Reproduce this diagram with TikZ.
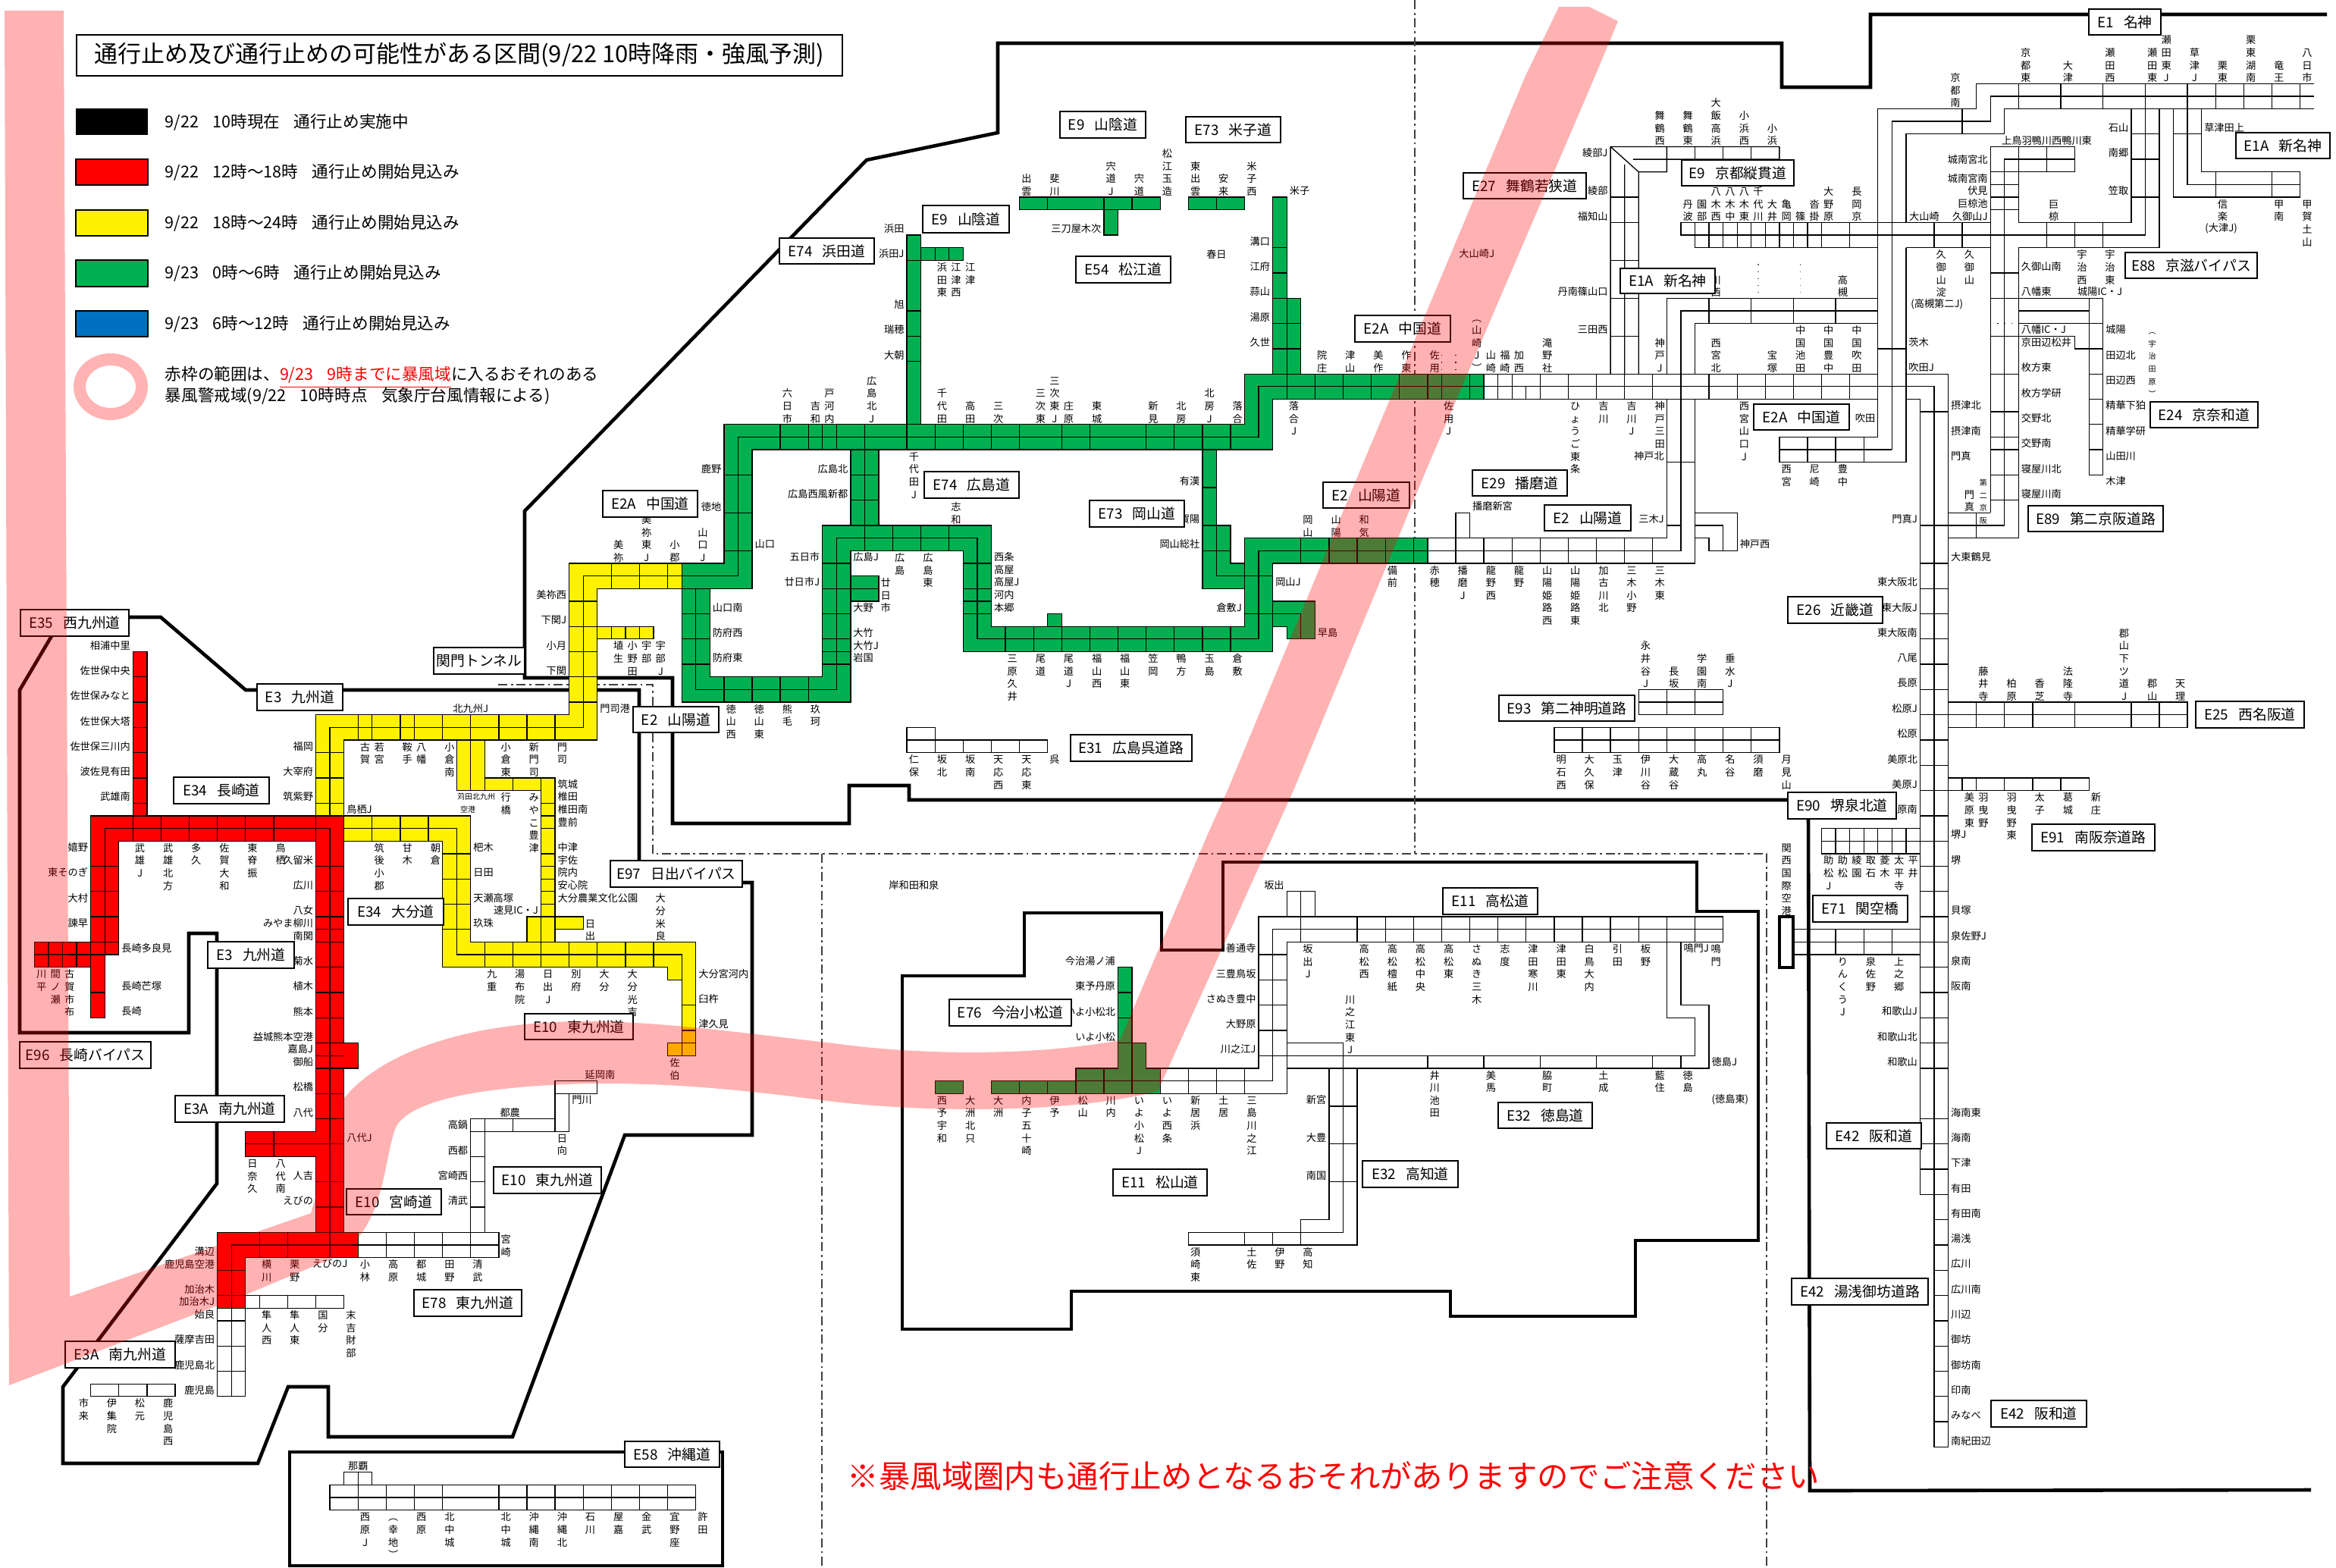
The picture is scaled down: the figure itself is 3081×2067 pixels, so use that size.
\documentclass[tikz,border=0pt]{standalone}
\usepackage{fontspec}
\setmainfont{Noto Sans CJK JP}
\definecolor{rdgreen}{HTML}{00B050}
\definecolor{rdblue}{HTML}{0070C0}
\definecolor{ringpink}{HTML}{FFB3B3}
\newcount\nc
\newcommand\fsmall{\fontsize{3.3}{4.1625}\selectfont}
\newcommand\ftiny{\fontsize{2.5}{4.1625}\selectfont}
\tikzset{
 ln/.style={draw=black,line width=0.33pt},
 heavy/.style={draw=black,line width=1.15pt,line join=miter},
 ddash/.style={draw=black!75,line width=0.35pt,dash pattern=on 3pt off 1.2pt on 0.7pt off 1.2pt},
 roadfill/.style={draw=black,line width=0.33pt,line join=miter},
 vtext/.style={anchor=north,align=center,inner sep=0pt,font=\fsmall},
 htext/.style={inner sep=0pt,font=\fsmall},
 labbox/.style={draw=black,fill=white,line width=0.35pt,inner sep=0pt,font=\fontsize{4.7}{5}\selectfont},
 legtext/.style={anchor=west,inner sep=0pt,font=\fontsize{5.4}{6}\selectfont},
 swatch/.style={draw=black,line width=0.3pt}
}
\newcommand\tV[3]{\global\advance\nc by 1 \node[vtext] (n\the\nc) at (#1+.5,#2) {\rule{0pt}{3.33pt}#3};}
\newcommand\tR[3]{\global\advance\nc by 1 \node[htext,anchor=east] (n\the\nc) at (#1-.15,#2+.5) {#3};}
\newcommand\tL[3]{\global\advance\nc by 1 \node[htext,anchor=west] (n\the\nc) at (#1+.15,#2+.5) {#3};}
\newcommand\tC[3]{\global\advance\nc by 1 \node[htext] (n\the\nc) at (#1,#2+.5) {#3};}
\newcommand\lab[5]{\global\advance\nc by 1 \node[labbox,minimum width={(#3-#1)*0.25pt},minimum height={(#4-#2)*0.25pt}] (n\the\nc) at ({(#1+#3)/2},{(#2+#4)/2}) {#5};}
\newcommand\tkV[3]{\foreach \q in {#3} \draw[ln] (\q,#1)--(\q,#2);}
\newcommand\tkH[3]{\foreach \q in {#3} \draw[ln] (#1,\q)--(#2,\q);}
\newcommand\gp{\hspace{0.7em}}
\newcommand\leggap{\hspace{4.6pt}}
\begin{document}
\begin{tikzpicture}[x=0.25pt,y=-0.25pt]
\useasboundingbox (0,0) rectangle (3081,2067);
\fill[white] (0,0) rectangle (3081,2067);
% heavy boundaries
\draw[heavy] (3069,19)--(2467,19)--(2467,115)--(2350,115)--(2350,57)--(1316,57)--(1316,175)--(1143,211)--(692,674)--(692,894)--(887,894)--(887,1086)--(1120,1086)--(1120,1036)--(1199,1036)--(1199,1055)--(2360,1055);
\draw[heavy] (170,814)--(212,814)--(324,910)--(843,910)--(843,1135);
\draw[heavy] (978,1164)--(992,1164)--(992,1497)--(824,1497)--(676,1895)--(433,1895)--(433,1829)--(380,1829)--(340,1930)--(83,1930)--(83,1829)--(286,1561)--(286,1231)--(249,1231)--(249,1362)--(26,1362)--(26,910)--(68,839);
\draw[heavy] (382,1915)--(953,1915)--(953,2065)--(382,2065)--cycle;
\draw[heavy] (1190,1287)--(1351,1287)--(1351,1204)--(1532,1204)--(1532,1253)--(1613,1253)--(1613,1137)--(2238,1137)--(2238,1202)--(2319,1202)--(2319,1636)--(2157,1636)--(2157,1736)--(1913,1736)--(1913,1703)--(1413,1703)--(1413,1753)--(1190,1753)--cycle;
\draw[heavy] (2385,1080)--(2387,1966)--(3048,1965);
% dash-dot boundaries
\draw[ddash] (1866,0)--(1866,1126);
\draw[ddash] (657,903)--(861,903)--(861,1126)--(2330,1126);
\draw[ddash] (1084,1126)--(1084,2067);
\draw[ddash] (2330,1126)--(2330,2067);

\begin{scope}[shift={(8.27,10.3)},x=4.64pt,y=-4.1625pt]
%%%%%% Kyushu red
\fill[red] (9,51) rectangle (10,64);
\draw[ln] (9,51) rectangle (10,64); \tkH{9}{10}{53,55,57,59,61,63}
\filldraw[roadfill,fill=red] (2,74)--(6,74)--(6,64)--(24,64)--(24,82)--(25,82)--(25,84)--(24,84)--(24,97)--(25,97)--(25,99)--(17,99)--(17,103)--(15,103)--(15,97)--(22,97)--(22,91)--(17,91)--(17,89)--(22,89)--(22,66)--(8,66)--(8,75)--(7,75)--(7,80)--(6,80)--(6,76)--(2,76)--cycle;
\draw[ln] (2,75)--(7,75)--(7,65)--(23,65)--(23,98)--(16,98)--(16,103) (23,98)--(25,98) (17,90)--(22,90);
\tkV{64}{66}{9,11,13,15,17,19,22}
\tkH{6}{8}{68,70,72,74}
\tkV{74}{76}{3,4,5,6}
\tkH{6}{7}{78}
\tkH{22}{24}{68,70,72,73,74,76,78,80,82,83,84,86,88,90,93,95,97}
\tkV{89}{91}{19}
\tkV{97}{99}{18,20,23}
\tkH{15}{17}{100,102}
%%%%%% Kyushu white
\draw[ln] (15,103) rectangle (17,110) (16,103)--(16,110); \tkH{15}{17}{104,106,108}
\draw[ln] (17,102) rectangle (24,103); \tkV{102}{103}{18,20,22}
\draw[ln] (25,97) rectangle (35,99) (25,98)--(35,98); \tkV{97}{99}{27,29,31,33}
\draw[ln] (33,88) rectangle (34,97); \tkH{33}{34}{89,91,93,95}
\draw[ln] (33,88) rectangle (39,89) (36,88)--(36,89);
\draw[ln] (39,86) rectangle (40,89) (39,85) rectangle (42,86);
\draw[ln] (6,109) rectangle (12,110); \tkV{109}{110}{8,10}
\draw[ln] (23,117) rectangle (49,119) (23,118)--(49,118); \tkV{117}{119}{25,27,29,31,35,37,39,41,43,45,47}
\draw[ln] (24,116) rectangle (26,117) (25,116)--(25,117);
%%%%%% Yellow
\filldraw[roadfill,fill=yellow] (22,64)--(22,56)--(40,56)--(40,44)--(48,44)--(48,46)--(42,46)--(42,58)--(24,58)--(24,64)--cycle;
\draw[ln] (23,64)--(23,57)--(41,57)--(41,45)--(48,45);
\tkV{56}{58}{25,26,28,29,31,33,35,37,39}
\tkH{22}{24}{59,61,63}
\tkH{40}{42}{47,49,51,53,55}
\tkV{44}{46}{43,45,47}
\filldraw[roadfill,fill=yellow] (42,49) rectangle (46,50); \tkV{49}{50}{43,44,45}
\filldraw[roadfill,fill=yellow] (32,58)--(34,58)--(34,61)--(39,61)--(39,72)--(41,72)--(41,73)--(39,73)--(39,74)--(37,74)--(37,72)--(38,72)--(38,62)--(32,62)--cycle;
\draw[ln] (33,58)--(33,62) (34,61)--(34,62) (36,61)--(36,62) (38,61)--(38,62) (38,72)--(38,74) (39,72)--(39,73);
\tkH{38}{39}{63,64,65,67,68,69,70,71}
\draw[ln] (37,72)--(39,72);
\filldraw[roadfill,fill=yellow] (24,64)--(33,64)--(33,74)--(49,74)--(49,83)--(47,83)--(47,82)--(48,82)--(48,77)--(47,77)--(47,76)--(31,76)--(31,66)--(24,66)--cycle;
\draw[ln] (24,65)--(32,65)--(32,75)--(48,75)--(48,83) (47,82)--(49,82);
\tkV{64}{66}{26,28,30}
\tkH{31}{33}{67,69,71,73}
\tkV{74}{76}{34,36,38,40,42,44,46}
\tkH{48}{49}{79,81}
%%%%%% Green
\filldraw[roadfill,fill=rdgreen] (48,44)--(51,44)--(51,33)--(88,33)--(88,29)--(105,29)--(105,31)--(90,31)--(90,35)--(53,35)--(53,46)--(48,46)--cycle;
\draw[ln] (48,45)--(52,45)--(52,34)--(89,34)--(89,30)--(105,30);
\tkH{51}{53}{37,40,43}
\tkV{33}{35}{55,57,58,59,61,64,66,68,70,72,75,77,81,83,85,87}
\tkV{29}{31}{91,93,95,97,99,101,102,104}
\filldraw[roadfill,fill=rdgreen] (48,46)--(48,55)--(60,55)--(60,43)--(68,43)--(68,51)--(90,51)--(90,44)--(101,44)--(101,42)--(88,42)--(88,49)--(70,49)--(70,41)--(58,41)--(58,53)--(50,53)--(50,46)--cycle;
\draw[ln] (49,46)--(49,54)--(59,54)--(59,42)--(69,42)--(69,50)--(89,50)--(89,43)--(101,43);
\tkH{48}{50}{48,50,52}
\tkV{53}{55}{51,53,55,57}
\tkH{58}{60}{44,46,48,50,51,52}
\tkV{41}{43}{61,63,65,67}
\tkH{68}{70}{44,46,47,48}
\tkV{49}{51}{71,73,75,77,79,81,83,85,87}
\tkH{88}{90}{45,48}
\tkV{42}{44}{92,94,96,98,100}
\filldraw[roadfill,fill=rdgreen] (60,35) rectangle (62,41); \draw[ln] (61,35)--(61,41); \tkH{60}{62}{37,39}
\filldraw[roadfill,fill=rdgreen] (60,45) rectangle (62,47); \draw[ln] (60,46)--(62,46);
\filldraw[roadfill,fill=rdgreen] (74,48) rectangle (75,49);
\filldraw[roadfill,fill=rdgreen] (85,35)--(86,35)--(86,41)--(87,41)--(87,44)--(88,44)--(88,46)--(85,46)--cycle;
\draw[ln] (86,41)--(86,45)--(88,45) (85,38)--(86,38) (85,41)--(86,41) (85,43)--(87,43);
\filldraw[roadfill,fill=rdgreen] (90,47)--(93,47)--(93,50)--(91,50)--(91,49)--(90,49)--cycle;
\draw[ln] (90,48)--(92,48)--(92,50);
\filldraw[roadfill,fill=rdgreen] (64,18) rectangle (65,33); \tkH{64}{65}{20,24,26,28}
\filldraw[roadfill,fill=rdgreen] (65,19) rectangle (68,20); \tkV{19}{20}{66,67}
\filldraw[roadfill,fill=rdgreen] (90,15)--(91,15)--(91,23)--(92,23)--(92,29)--(90,29)--cycle;
\draw[ln] (91,23)--(91,29); \tkH{90}{91}{19,21} \tkH{90}{92}{23,25,27}
\filldraw[roadfill,fill=rdgreen] (72,15) rectangle (82,16); \tkV{15}{16}{74,78,80}
\filldraw[roadfill,fill=rdgreen] (78,16) rectangle (79,18);
\filldraw[roadfill,fill=rdgreen] (84,15) rectangle (88,16); \tkV{15}{16}{86}
% Shikoku green
\filldraw[roadfill,fill=rdgreen] (79,76)--(80,76)--(80,82)--(81,82)--(81,84)--(82,84)--(82,86)--(70,86)--(70,85)--(76,85)--(76,84)--(79,84)--cycle;
\draw[ln] (80,82)--(80,86) (76,85)--(82,85) (79,82)--(81,82) (76,84)--(76,86) (78,84)--(78,86);
\tkH{79}{80}{78,80}
\tkV{85}{86}{72,74}
\filldraw[roadfill,fill=rdgreen] (66,85) rectangle (68,86);
%%%%%% E2A / E2 white
\draw[ln] (105,29)--(133,29) (105,30)--(134,30) (105,31)--(133,31);
\tkV{29}{31}{106,107,109,111,113,115,117,119,121,123,125,127,129,131}
\draw[ln] (108,30)--(108,31);
\draw[dotted,line width=0.3pt] (102,27.5)--(102,29) (103,27.5)--(103,29);
\draw[dotted,line width=0.3pt,black!60] (124.5,20.3)--(124.5,23) (127.5,20.3)--(127.5,23);
\draw[ln] (101,42)--(118,42)--(118,31) (101,43)--(119,43)--(119,31) (101,44)--(120,44)--(120,31);
\tkV{42}{44}{103,105,107,109,111,113,115,117}
\draw[ln] (118,36)--(120,36) (118,41)--(119,41);
\draw[ln] (103,42)--(103,40)--(104,40)--(104,42);
\draw[ln] (120,40)--(123,40)--(123,43)--(121,43)--(121,42)--(120,42) (120,41)--(122,41)--(122,43);
%%% E9 Kyoto
\draw[ln] (114,29)--(114,11)--(126,11)--(126,12)--(115.6,12) (115,29)--(115,12.4) (116,29)--(116,13)--(118,13)--(118,11) (114,11)--(116,13);
\tkH{114}{116}{15,17,20,23,26}
\tkV{11}{12}{120,122,124}
\draw[ln] (119,17) rectangle (133,18) (120,18)--(120,19)--(133,19);
\tkV{17}{19}{121,122,123,124,125,126,127,128,129,131}
\draw[ln] (120,17)--(120,19);
%%% E2A north
\draw[ln] (118,29)--(118,23)--(133,23) (119,29)--(119,24)--(133,24) (120,29)--(120,25)--(133,25);
\tkV{23}{25}{121,124,127,130}
\draw[ln] (126,34)--(133,34) (126,35)--(134,35) (126,36)--(135,36) (126,34)--(126,36);
\tkV{34}{36}{128,130,132}
%%% Meishin + vertical
\draw[ln] (164,6)--(140,6)--(140,8)--(133,8)--(133,34) (164,7)--(141,7)--(141,9)--(134,9)--(134,35) (164,8)--(142,8)--(142,10)--(135,10)--(135,17)--(141,17) (135,19)--(135,36);
\tkV{6}{8}{143,146,149,152,155,157,159,161,163}
\draw[ln] (139,8)--(139,10) (135,10)--(139,10);
\draw[ln] (133,18)--(152,18)--(152,8) (135,19)--(141,19) (133,17)--(135,17) (143,17)--(151,17)--(151,8) (143,19)--(153,19)--(153,8);
\tkV{17}{19}{137,139,145,147,149}
\tkH{151}{153}{10,12,15}
\draw[ln] (133,27)--(135,27);
\draw[ln] (154,8)--(154,15)--(163,15)--(163,13)--(156,13)--(156,8) (155,8)--(155,14)--(163,14) (154,10)--(156,10);
\tkV{13}{15}{157,161}
%%% E1A / E89 vertical
\draw[ln] (141,40)--(141,11)--(147,11)--(147,13)--(141,13) (142,41)--(142,12)--(147,12) (143,13)--(143,11) (145,11)--(145,13);
\draw[ln] (143,13)--(143,17) (143,19)--(143,42);
\tkH{141}{143}{14,15,16,21,23,26,29,32,34,35,37,39}
\draw[dotted,line width=0.3pt] (141,25)--(143,25);
\draw[ln] (143,23)--(149,23) (143,24)--(148,24) (143,25)--(149,25) (143,26)--(147,26)--(147,27)--(149,27);
\draw[ln] (148,23)--(148,37)--(149,37)--(149,23);
\tkH{148}{149}{27,29,31,33,35}
\draw[ln] (138,40)--(141,40) (138,41)--(142,41) (138,42)--(143,42) (140,40)--(140,42);
%%% E26 main
\draw[ln] (135,29)--(138,29)--(138,94) (134,30)--(137,30)--(137,114)--(138,114)--(138,94) (135,31)--(136,31)--(136,94)--(138,94);
\tkH{136}{138}{32,41,44,46,48,50,52,54,56,58,60,62,64,66,68,70,72,74,76,78,80,82,84,88,90,92}
\tkH{137}{138}{96,98,100,102,104,106,108,110,112}
%%% branches
\draw[ln] (138,55) rectangle (155,57) (138,56)--(155,56); \tkV{55}{57}{140,142,144,147,151,153}
\draw[ln] (138,61) rectangle (148,62); \tkV{61}{62}{139,140,142,144,146}
\draw[ln] (129,65) rectangle (136,67) (129,66)--(136,66); \tkV{65}{67}{130,131,132,133,134,135}
\draw[ln] (127,73)--(136,73) (127,74)--(136,74) (127,75)--(136,75); \tkV{73}{75}{130,132,134}
\draw[line width=1pt] (126,72) rectangle (127,76);
\draw[ln] (116,54) rectangle (122,56) (116,55)--(122,55); \tkV{54}{56}{118,120}
\draw[ln] (110,57) rectangle (126,59) (110,58)--(126,58); \tkV{57}{59}{112,114,116,118,120,122,124}
\draw[ln] (64,57) rectangle (66,59) (64,58)--(74,58) (66,58)--(74,58)--(74,59)--(66,59); \tkV{58}{59}{68,70,72}
%%%%%% Shikoku white
\draw[ln] (82,84)--(89,84)--(89,72)--(122,72)--(122,74)--(91,74)--(91,86)--(82,86) (82,85)--(90,85)--(90,73)--(122,73);
\tkV{84}{86}{84,86,88}
\tkH{89}{91}{75,77,79,81,83}
\tkV{72}{74}{92,96,98,100,102,104,106,108,110,112,114,116,118,120}
\draw[ln] (91,72)--(91,70)--(93,70)--(93,72) (92,70)--(92,74);
\draw[ln] (118,74)--(118,80)--(120,80)--(120,83)--(91,83) (119,74)--(119,79)--(121,79)--(121,84)--(91,84);
\tkV{83}{84}{101,105,109,113,117,119}
\draw[ln] (91,82)--(95,82)--(95,97)--(84,97)--(84,98)--(96,98)--(96,84) (94,84)--(94,96)--(92,96)--(92,98);
\tkH{94}{96}{87,90,93}
\tkV{97}{98}{88,90}

%%%%%% TEXT
% Kyushu
\tR{9}{50}{相浦中里}\tR{9}{52}{佐世保中央}\tR{9}{54}{佐世保みなと}\tR{9}{56}{佐世保大塔}\tR{9}{58}{佐世保三川内}\tR{9}{60}{波佐見有田}\tR{9}{62}{武雄南}
\tR{6}{66}{嬉野}\tR{6}{68}{東そのぎ}\tR{6}{70}{大村}\tR{6}{72}{諫早}
\tV{9}{66}{武\\雄\\J}\tV{11}{66}{武\\雄\\北\\方}\tV{13}{66}{多\\久}\tV{15}{66}{佐\\賀\\大\\和}\tV{17}{66}{東\\脊\\振}\tV{19}{66}{鳥\\栖}
\tR{22}{67}{久留米}\tR{22}{69}{広川}\tR{22}{71}{八女}\tR{22}{72}{みやま柳川}\tR{22}{73}{南関}\tR{22}{75}{菊水}\tR{22}{77}{植木}\tR{22}{79}{熊本}\tR{22}{81}{益城熊本空港}\tR{22}{82}{嘉島J}\tR{22}{83}{御船}\tR{22}{85}{松橋}\tR{22}{87}{八代}
\tL{24}{89}{八代J}\tR{22}{92}{人吉}\tR{22}{94}{えびの}
\tV{17}{91}{日\\奈\\久}\tV{19}{91}{八\\代\\南}
\tL{8}{74}{長崎多良見}\tL{8}{77}{長崎芒塚}\tL{8}{79}{長崎}
\tV{2}{76}{川\\平}\tV{3}{76}{間\\ノ\\瀬}\tV{4}{76}{古\\賀\\市\\布}
\tL{42}{55}{門司港}\tC{33}{55}{北九州J}
\tV{25}{58}{古\\賀}\tV{26}{58}{若\\宮}\tV{28}{58}{鞍\\手}\tV{29}{58}{八\\幡}\tV{31}{58}{小\\倉\\南}\tV{35}{58}{小\\倉\\東}\tV{37}{58}{新\\門\\司}\tV{39}{58}{門\\司}
\tR{22}{58}{福岡}\tR{22}{60}{大宰府}\tR{22}{62}{筑紫野}\tL{24}{63}{鳥栖J}
\tL{39}{61}{筑城}\tL{39}{62}{椎田}\tL{39}{63}{椎田南}\tL{39}{64}{豊前}\tL{39}{66}{中津}\tL{39}{67}{宇佐}\tL{39}{68}{院内}\tL{39}{69}{安心院}\tL{39}{70}{大分農業文化公園}
\node[htext,font=\ftiny] (kanda1) at (33.4,62.5) {苅田北九州};\node[htext,font=\ftiny] (kanda2) at (32.8,63.5) {空港};
\tV{35}{62}{行\\橋}\tV{37}{62}{み\\や\\こ\\豊\\津}
\tV{26}{66}{筑\\後\\小\\郡}\tV{28}{66}{甘\\木}\tV{30}{66}{朝\\倉}
\tL{33}{66}{杷木}\tL{33}{68}{日田}\tL{33}{70}{天瀬高塚}\tL{33}{72}{玖珠}\tR{38}{71}{速見IC・J}\tV{41}{72}{日\\出}
\tV{34}{76}{九\\重}\tV{36}{76}{湯\\布\\院}\tV{38}{76}{日\\出\\J}\tV{40}{76}{別\\府}\tV{42}{76}{大\\分}\tV{44}{76}{大\\分\\光\\吉}
\tV{46}{70}{大\\分\\米\\良}
\tL{49}{76}{大分宮河内}\tL{49}{78}{臼杵}\tL{49}{80}{津久見}\tV{47}{83}{佐\\伯}
\tV{43}{50}{埴\\生}\tV{44}{50}{小\\野\\田}\tV{45}{50}{宇\\部}\tV{46}{50}{宇\\部\\J}
\tR{40}{46}{美祢西}\tR{40}{48}{下関J}\tR{40}{50}{小月}\tR{40}{52}{下関}
\tV{43}{42}{美\\祢}\tV{45}{40}{美\\祢\\東\\J}\tV{47}{42}{小\\郡}\tV{49}{41}{山\\口\\J}
\tR{51}{36}{鹿野}\tR{51}{39}{徳地}\tL{53}{42}{山口}
% Chugoku
\tV{55}{30}{六\\日\\市}\tV{57}{31}{吉\\和}\tV{58}{30}{戸\\河\\内}\tV{61}{29}{広\\島\\北\\J}\tV{66}{30}{千\\代\\田}\tV{68}{31}{高\\田}\tV{70}{31}{三\\次}\tV{73}{30}{三\\次\\東}\tV{74}{29}{三\\次\\東\\J}\tV{75}{31}{庄\\原}\tV{77}{31}{東\\城}\tV{81}{31}{新\\見}\tV{83}{31}{北\\房}\tV{85}{30}{北\\房\\J}\tV{87}{31}{落\\合}
\tR{64}{17}{浜田}\tR{64}{19}{浜田J}\tR{64}{23}{旭}\tR{64}{25}{瑞穂}\tR{64}{27}{大朝}
\tV{66}{20}{浜\\田\\東}\tV{67}{20}{江\\津\\西}\tV{68}{20}{江\\津}
\tV{72}{13}{出\\雲}\tV{74}{13}{斐\\川}\tV{78}{12}{宍\\道\\J}\tV{80}{13}{宍\\道}\tV{82}{11}{松\\江\\玉\\造}\tV{84}{12}{東\\出\\雲}\tV{86}{13}{安\\来}\tV{88}{12}{米\\子\\西}
\tL{91}{14}{米子}\tR{78}{17}{三刀屋木次}\tC{86}{19}{春日}
\tR{90}{18}{溝口}\tR{90}{20}{江府}\tR{90}{22}{蒜山}\tR{90}{24}{湯原}\tR{90}{26}{久世}
\tV{93}{27}{院\\庄}\tV{95}{27}{津\\山}\tV{97}{27}{美\\作}\tV{99}{27}{作\\東}\tV{101}{27}{佐\\用}\tV{104}{24}{︵\\山\\崎\\J\\︶}\tV{105}{27}{山\\崎}\tV{106}{27}{福\\崎}\tV{107}{27}{加\\西}\tV{109}{26}{滝\\野\\社}
\tV{91}{31}{落\\合\\J}\tV{102}{31}{佐\\用\\J}\tV{111}{31}{ひ\\ょ\\う\\ご\\東\\条}\tV{113}{31}{吉\\川}\tV{115}{31}{吉\\川\\J}\tV{117}{31}{神\\戸\\三\\田}
\tR{118}{35}{神戸北}\tR{118}{40}{三木J}
\tR{85}{37}{有漢}\tR{85}{40}{賀陽}\tR{85}{42}{岡山総社}\tR{88}{47}{倉敷J}\tL{90}{45}{岡山J}\tL{93}{49}{早島}
\tV{92}{40}{岡\\山}\tV{94}{40}{山\\陽}\tV{96}{40}{和\\気}\tV{98}{44}{備\\前}\tV{101}{44}{赤\\穂}\tV{103}{44}{播\\磨\\J}\tV{105}{44}{龍\\野\\西}\tV{107}{44}{龍\\野}\tV{109}{44}{山\\陽\\姫\\路\\西}\tV{111}{44}{山\\陽\\姫\\路\\東}\tL{104}{39}{播磨新宮}
\tV{113}{44}{加\\古\\川\\北}\tV{115}{44}{三\\木\\小\\野}\tV{117}{44}{三\\木\\東}\tL{123}{42}{神戸西}
\tV{64}{35}{千\\代\\田\\J}\tR{60}{36}{広島北}\tR{60}{38}{広島西風新都}\tV{67}{39}{志\\和}
\tR{58}{43}{五日市}\tR{58}{45}{廿日市J}\tL{60}{43}{広島J}\tV{63}{43}{広\\島}\tV{65}{43}{広\\島\\東}\tV{62}{45}{廿\\日\\市}
\tL{60}{47}{大野}\tL{60}{49}{大竹}\tL{60}{50}{大竹J}\tL{60}{51}{岩国}
\tL{70}{43}{西条}\tL{70}{44}{高屋}\tL{70}{45}{高屋J}\tL{70}{46}{河内}\tL{70}{47}{本郷}
\tL{50}{47}{山口南}\tL{50}{49}{防府西}\tL{50}{51}{防府東}
\tV{51}{55}{徳\\山\\西}\tV{53}{55}{徳\\山\\東}\tV{55}{55}{熊\\毛}\tV{57}{55}{玖\\珂}
\tV{71}{51}{三\\原\\久\\井}\tV{73}{51}{尾\\道}\tV{75}{51}{尾\\道\\J}\tV{77}{51}{福\\山\\西}\tV{79}{51}{福\\山\\東}\tV{81}{51}{笠\\岡}\tV{83}{51}{鴨\\方}\tV{85}{51}{玉\\島}\tV{87}{51}{倉\\敷}
\tV{64}{59}{仁\\保}\tV{66}{59}{坂\\北}\tV{68}{59}{坂\\南}\tV{70}{59}{天\\応\\西}\tV{72}{59}{天\\応\\東}\tV{74}{59}{呉}
% Kansai
\tV{117}{8}{舞\\鶴\\西}\tV{119}{8}{舞\\鶴\\東}\tV{121}{7}{大\\飯\\高\\浜}\tV{123}{8}{小\\浜\\西}\tV{125}{9}{小\\浜}
\tR{114}{11}{綾部J}\tR{114}{14}{綾部}\tR{114}{16}{福知山}\tR{114}{22}{丹南篠山口}\tR{114}{25}{三田西}\tC{104.5}{19}{大山崎J}
\tV{119}{15}{丹\\波}\tV{120}{15}{園\\部}\tV{121}{14}{八\\木\\西}\tV{122}{14}{八\\木\\中}\tV{123}{14}{八\\木\\東}\tV{124}{14}{千\\代\\川}\tV{125}{15}{大\\井}\tV{126}{15}{亀\\岡}\tV{127}{16}{篠}\tV{128}{15}{沓\\掛}\tV{129}{14}{大\\野\\原}\tV{131}{14}{長\\岡\\京}
\tV{138}{5}{京\\都\\南}\tV{143}{3}{京\\都\\東}\tV{146}{4}{大\\津}\tV{149}{3}{瀬\\田\\西}\tV{152}{3}{瀬\\田\\東}\tV{153}{2}{瀬\\田\\東\\J}\tV{155}{3}{草\\津\\J}\tV{157}{4}{栗\\東}\tV{159}{2}{栗\\東\\湖\\南}\tV{161}{4}{竜\\王}\tV{163}{3}{八\\日\\市}
\tC{145}{10}{上鳥羽鴨川西鴨川東}
\tR{141}{11.5}{城南宮北}\tR{141}{13}{城南宮南}\tR{141}{14}{伏見}\tR{141}{15}{巨椋池}\tR{141}{16}{久御山J}\tC{136.3}{16}{大山崎}
\tR{151}{9}{石山}\tR{151}{11}{南郷}\tR{151}{14}{笠取}\tL{156}{9}{草津田上}\tV{145}{15}{巨\\椋}
\tV{157}{15}{信\\楽}\tC{157.4}{17}{(大津J)}\tV{161}{15}{甲\\南}\tV{163}{15}{甲\\賀\\土\\山}
\tV{137}{19}{久\\御\\山\\淀}\tC{137.2}{23}{(高槻第二J)}\tV{139}{19}{久\\御\\山}
\tL{143}{20}{久御山南}\tL{143}{22}{八幡東}\tL{143}{25}{八幡IC・J}\tL{143}{26}{京田辺松井}\tL{143}{28}{枚方東}\tL{143}{30}{枚方学研}\tL{143}{32}{交野北}\tL{143}{34}{交野南}\tL{143}{36}{寝屋川北}\tL{143}{38}{寝屋川南}
\tV{147}{19}{宇\\治\\西}\tV{149}{19}{宇\\治\\東}\tL{147}{22}{城陽IC・J}
\tL{149}{25}{城陽}\tL{149}{27}{田辺北}\tL{149}{29}{田辺西}\tL{149}{31}{精華下狛}\tL{149}{33}{精華学研}\tL{149}{35}{山田川}\tL{149}{37}{木津}
\node[vtext,font=\ftiny] (ujit) at (152.5,25) {\rule{0pt}{3.33pt}︵\\宇\\治\\田\\原\\︶};
\tV{130}{21}{高\\槻}\tV{121}{21}{川\\西}\tL{135}{26}{茨木}\tL{135}{28}{吹田J}\tR{133}{32}{吹田}
\tL{138}{31}{摂津北}\tL{138}{33}{摂津南}\tL{138}{35}{門真}
\tV{117}{26}{神\\戸\\J}\tV{121}{26}{西\\宮\\北}\tV{125}{27}{宝\\塚}\tV{127}{25}{中\\国\\池\\田}\tV{129}{25}{中\\国\\豊\\中}\tV{131}{25}{中\\国\\吹\\田}
\tV{123}{31}{西\\宮\\山\\口\\J}\tV{126}{36}{西\\宮}\tV{128}{36}{尼\\崎}\tV{130}{36}{豊\\中}
\node[vtext,font=\ftiny] (dainikei) at (140.5,37) {\rule{0pt}{3.33pt}第\\二\\京\\阪};\tV{139}{38}{門\\真}
\tR{136}{40}{門真J}\tL{138}{43}{大東鶴見}
\tR{136}{45}{東大阪北}\tR{136}{47}{東大阪J}\tR{136}{49}{東大阪南}\tR{136}{51}{八尾}\tR{136}{53}{長原}\tR{136}{55}{松原J}\tR{136}{57}{松原}\tR{136}{59}{美原北}\tR{136}{61}{美原J}\tR{136}{63}{美原南}
\tL{138}{65}{堺J}\tL{138}{67}{堺}\tL{138}{71}{貝塚}\tL{138}{73}{泉佐野J}\tL{138}{75}{泉南}\tL{138}{77}{阪南}
\tR{136}{79}{和歌山J}\tR{136}{81}{和歌山北}\tR{136}{83}{和歌山}
\tL{138}{87}{海南東}\tL{138}{89}{海南}\tL{138}{91}{下津}\tL{138}{93}{有田}\tL{138}{95}{有田南}\tL{138}{97}{湯浅}\tL{138}{99}{広川}\tL{138}{101}{広川南}\tL{138}{103}{川辺}\tL{138}{105}{御坊}\tL{138}{107}{御坊南}\tL{138}{109}{印南}\tL{138}{111}{みなべ}\tL{138}{113}{南紀田辺}
\tV{116}{50}{永\\井\\谷\\J}\tV{118}{52}{長\\坂}\tV{120}{51}{学\\園\\南}\tV{122}{51}{垂\\水\\J}
\tV{110}{59}{明\\石\\西}\tV{112}{59}{大\\久\\保}\tV{114}{59}{玉\\津}\tV{116}{59}{伊\\川\\谷}\tV{118}{59}{大\\蔵\\谷}\tV{120}{59}{高\\丸}\tV{122}{59}{名\\谷}\tV{124}{59}{須\\磨}\tV{126}{59}{月\\見\\山}
\tV{140}{52}{藤\\井\\寺}\tV{142}{53}{柏\\原}\tV{144}{53}{香\\芝}\tV{146}{52}{法\\隆\\寺}\tV{150}{49}{郡\\山\\下\\ツ\\道\\J}\tV{152}{53}{郡\\山}\tV{154}{53}{天\\理}
\tV{139}{62}{美\\原\\東}\tV{140}{62}{羽\\曳\\野}\tV{142}{62}{羽\\曳\\野\\東}\tV{144}{62}{太\\子}\tV{146}{62}{葛\\城}\tV{148}{62}{新\\庄}
\tV{129}{67}{助\\松\\J}\tV{130}{67}{助\\松}\tV{131}{67}{綾\\園}\tV{132}{67}{取\\石}\tV{133}{67}{菱\\木}\tV{134}{67}{太\\平\\寺}\tV{135}{67}{平\\井}
\tV{126}{66}{関\\西\\国\\際\\空\\港}
\tV{130}{75}{り\\ん\\く\\う\\J}\tV{132}{75}{泉\\佐\\野}\tV{134}{75}{上\\之\\郷}
% Shikoku
\tC{64.5}{69}{岸和田和泉}\tR{91}{69}{坂出}
\tR{89}{74}{善通寺}\tR{89}{76}{三豊鳥坂}\tR{89}{78}{さぬき豊中}\tR{89}{80}{大野原}\tR{89}{82}{川之江J}
\tV{92}{74}{坂\\出\\J}\tV{96}{74}{高\\松\\西}\tV{98}{74}{高\\松\\檀\\紙}\tV{100}{74}{高\\松\\中\\央}\tV{102}{74}{高\\松\\東}\tV{104}{74}{さ\\ぬ\\き\\三\\木}\tV{106}{74}{志\\度}\tV{108}{74}{津\\田\\寒\\川}\tV{110}{74}{津\\田\\東}\tV{112}{74}{白\\鳥\\大\\内}\tV{114}{74}{引\\田}\tV{116}{74}{板\\野}
\tL{119}{74}{鳴門J}\tV{121}{74}{鳴\\門}\tV{95}{78}{川\\之\\江\\東\\J}
\tL{121}{83}{徳島J}\tL{121}{86}{(徳島東)}
\tV{101}{84}{井\\川\\池\\田}\tV{105}{84}{美\\馬}\tV{109}{84}{脇\\町}\tV{113}{84}{土\\成}\tV{117}{84}{藍\\住}\tV{119}{84}{徳\\島}
\tR{79}{75}{今治湯ノ浦}\tR{79}{77}{東予丹原}\tR{79}{79}{いよ小松北}\tR{79}{81}{いよ小松}
\tV{66}{86}{西\\予\\宇\\和}\tV{68}{86}{大\\洲\\北\\只}\tV{70}{86}{大\\洲}\tV{72}{86}{内\\子\\五\\十\\崎}\tV{74}{86}{伊\\予}\tV{76}{86}{松\\山}\tV{78}{86}{川\\内}\tV{80}{86}{い\\よ\\小\\松\\J}\tV{82}{86}{い\\よ\\西\\条}\tV{84}{86}{新\\居\\浜}\tV{86}{86}{土\\居}\tV{88}{86}{三\\島\\川\\之\\江}
\tR{94}{86}{新宮}\tR{94}{89}{大豊}\tR{94}{92}{南国}
\tV{84}{98}{須\\崎\\東}\tV{88}{98}{土\\佐}\tV{90}{98}{伊\\野}\tV{92}{98}{高\\知}
% South Kyushu
\tR{15}{98}{溝辺}\tR{15}{99}{鹿児島空港}\tR{15}{101}{加治木}\tR{15}{102}{加治木J}\tR{15}{103}{始良}\tR{15}{105}{薩摩吉田}\tR{15}{107}{鹿児島北}\tR{15}{109}{鹿児島}
\tV{18}{99}{横\\川}\tV{20}{99}{栗\\野}\tC{23}{99}{えびのJ}\tV{25}{99}{小\\林}\tV{27}{99}{高\\原}\tV{29}{99}{都\\城}\tV{31}{99}{田\\野}\tV{33}{99}{清\\武}\tV{35}{97}{宮\\崎}
\tV{18}{103}{隼\\人\\西}\tV{20}{103}{隼\\人\\東}\tV{22}{103}{国\\分}\tV{24}{103}{末\\吉\\財\\部}
\tV{5}{110}{市\\来}\tV{7}{110}{伊\\集\\院}\tV{9}{110}{松\\元}\tV{11}{110}{鹿\\児\\島\\西}
\tR{33}{88}{高鍋}\tR{33}{90}{西都}\tR{33}{92}{宮崎西}\tR{33}{94}{清武}\tC{35.8}{87}{都農}\tC{42.2}{84}{延岡南}\tL{40}{86}{門川}\tV{39}{89}{日\\向}
\tC{25}{115}{那覇}\tV{25}{119}{西\\原\\J}\tV{27}{119}{︵\\幸\\地\\︶}\tV{29}{119}{西\\原}\tV{31}{119}{北\\中\\城}\tV{35}{119}{北\\中\\城}\tV{37}{119}{沖\\縄\\南}\tV{39}{119}{沖\\縄\\北}\tV{41}{119}{石\\川}\tV{43}{119}{屋\\嘉}\tV{45}{119}{金\\武}\tV{47}{119}{宜\\野\\座}\tV{49}{119}{許\\田}
\end{scope}

%%%%%% Labels
\lab{27}{804}{170}{839}{E35\gp 西九州道}
\lab{339}{902}{452}{937}{E3\gp 九州道}
\lab{572}{854}{692}{889}{関門トンネル}
\lab{835}{932}{948}{966}{E2\gp 山陽道}
\lab{229}{1025}{355}{1060}{E34\gp 長崎道}
\lab{459}{1185}{585}{1220}{E34\gp 大分道}
\lab{805}{1135}{979}{1170}{E97\gp 日出バイパス}
\lab{274}{1242}{388}{1277}{E3\gp 九州道}
\lab{26}{1374}{199}{1409}{E96\gp 長崎バイパス}
\lab{692}{1337}{835}{1371}{E10\gp 東九州道}
\lab{231}{1445}{375}{1480}{E3A\gp 南九州道}
\lab{457}{1568}{582}{1602}{E10\gp 宮崎道}
\lab{651}{1539}{793}{1574}{E10\gp 東九州道}
\lab{546}{1701}{688}{1736}{E78\gp 東九州道}
\lab{86}{1769}{231}{1804}{E3A\gp 南九州道}
\lab{824}{1901}{949}{1935}{E58\gp 沖縄道}
\lab{1028}{314}{1153}{348}{E74\gp 浜田道}
\lab{795}{647}{920}{682}{E2A\gp 中国道}
\lab{1398}{147}{1511}{182}{E9\gp 山陰道}
\lab{1564}{154}{1689}{188}{E73\gp 米子道}
\lab{1217}{271}{1331}{307}{E9\gp 山陰道}
\lab{1419}{338}{1544}{373}{E54\gp 松江道}
\lab{1930}{228}{2092}{262}{E27\gp 舞鶴若狭道}
\lab{1787}{416}{1913}{451}{E2A\gp 中国道}
\lab{1219}{622}{1344}{657}{E74\gp 広島道}
\lab{1437}{660}{1562}{695}{E73\gp 岡山道}
\lab{1745}{636}{1859}{670}{E2\gp 山陽道}
\lab{1942}{620}{2067}{654}{E29\gp 播磨道}
\lab{2037}{666}{2151}{700}{E2\gp 山陽道}
\lab{2755}{12}{2850}{46}{E1\gp 名神}
\lab{2949}{175}{3073}{209}{E1A\gp 新名神}
\lab{2218}{211}{2366}{245}{E9\gp 京都縦貫道}
\lab{2137}{354}{2262}{387}{E1A\gp 新名神}
\lab{2803}{333}{2977}{367}{E88\gp 京滋バイパス}
\lab{2313}{533}{2439}{567}{E2A\gp 中国道}
\lab{2836}{530}{2978}{564}{E24\gp 京奈和道}
\lab{2675}{667}{2853}{701}{E89\gp 第二京阪道路}
\lab{2358}{787}{2483}{822}{E26\gp 近畿道}
\lab{1977}{917}{2156}{951}{E93\gp 第二神明道路}
\lab{2896}{925}{3039}{960}{E25\gp 西名阪道}
\lab{2358}{1045}{2501}{1080}{E90\gp 堺泉北道}
\lab{2680}{1087}{2842}{1122}{E91\gp 南阪奈道路}
\lab{2391}{1181}{2516}{1216}{E71\gp 関空橋}
\lab{1412}{969}{1572}{1004}{E31\gp 広島呉道路}
\lab{2409}{1481}{2534}{1515}{E42\gp 阪和道}
\lab{2363}{1686}{2543}{1721}{E42\gp 湯浅御坊道路}
\lab{2626}{1847}{2752}{1882}{E42\gp 阪和道}
\lab{1903}{1171}{2028}{1206}{E11\gp 高松道}
\lab{1252}{1318}{1413}{1353}{E76\gp 今治小松道}
\lab{1976}{1454}{2100}{1488}{E32\gp 徳島道}
\lab{1468}{1542}{1592}{1577}{E11\gp 松山道}
\lab{1797}{1531}{1923}{1566}{E32\gp 高知道}

%%%%%% Title and legend
\node[draw=black,line width=0.45pt,inner sep=0pt,minimum width=252.5pt,minimum height=13.5pt,anchor=north west,font=\fontsize{7.75}{9}\selectfont] (title) at (100,45) {通行止め及び通行止めの可能性がある区間(9/22 10時降雨・強風予測)};
\fill[black] (100,143) rectangle (195,178);
\filldraw[swatch,fill=red] (100,210) rectangle (195,244);
\filldraw[swatch,fill=yellow] (100,277) rectangle (195,311);
\filldraw[swatch,fill=rdgreen] (100,343) rectangle (195,378);
\filldraw[swatch,fill=rdblue] (100,410) rectangle (195,444);
\fill[ringpink,even odd rule] (146,510) ellipse [x radius=49,y radius=44] (146,510) ellipse [x radius=33,y radius=28];
\node[legtext] (leg1) at (217,161) {9/22\leggap 10時現在\leggap 通行止め実施中};
\node[legtext] (leg2) at (217,227) {9/22\leggap 12時～18時\leggap 通行止め開始見込み};
\node[legtext] (leg3) at (217,294) {9/22\leggap 18時～24時\leggap 通行止め開始見込み};
\node[legtext] (leg4) at (217,360) {9/23\leggap 0時～6時\leggap 通行止め開始見込み};
\node[legtext] (leg5) at (217,427) {9/23\leggap 6時～12時\leggap 通行止め開始見込み};
\node[legtext] (leg6) at (217,498) {赤枠の範囲は、{\color{red}\underline{9/23\leggap 9時までに暴風域}}に入るおそれのある};
\node[legtext] (leg7) at (217,522) {暴風警戒域(9/22\leggap 10時時点\leggap 気象庁台風情報による)};
\node[inner sep=0pt,text=red,font=\fontsize{10.35}{12}\selectfont] (note) at (1759,1947) {※暴風域圏内も通行止めとなるおそれがありますのでご注意ください};

%%%%%% Storm band
\fill[red,fill opacity=0.3] (6,14)--(84,14)--(92,1710)--(410,1600) .. controls (425,1550) and (435,1490) .. (452,1451) .. controls (490,1400) and (590,1350) .. (760,1347) .. controls (860,1345) and (1000,1365) .. (1100,1376) .. controls (1200,1390) and (1350,1395) .. (1477,1372) -- (1593,1100)--(1620,1040)--(1794,620)--(2012,100)--(2056,9)--(2096,9)--(2134,28)--(2100,109)--(1881,620)--(1707,1040)--(1527,1439) .. controls (1430,1465) and (1250,1470) .. (1100,1453) .. controls (1000,1440) and (900,1428) .. (780,1429) .. controls (640,1432) and (540,1450) .. (522,1487) .. controls (505,1530) and (510,1610) .. (449,1655) -- (323,1708)--(12,1827)--cycle;
\end{tikzpicture}
\end{document}
